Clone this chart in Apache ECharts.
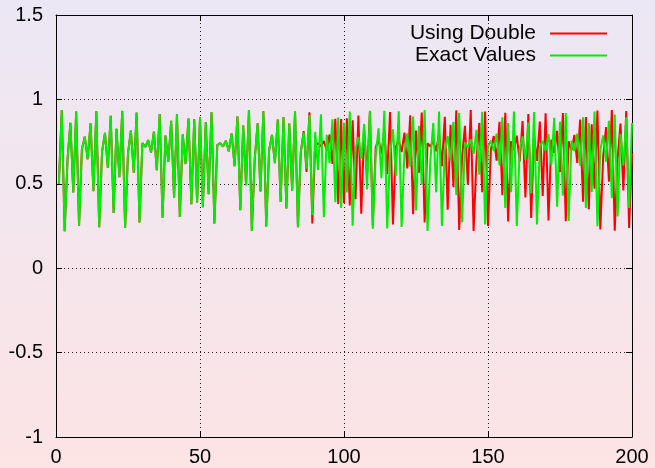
<!DOCTYPE html>
<html><head><meta charset="utf-8">
<script src="https://cdn.jsdelivr.net/npm/echarts/dist/echarts.min.js"></script>
<style>
html,body{margin:0;padding:0;width:655px;height:468px;overflow:hidden;background:linear-gradient(180deg,#ebe7f4 0%,#fde4e5 100%);}
#c{width:655px;height:468px;}
</style>
</head><body><div id="c"></div>
<script>
const seriesNames = ['Using Double', 'Exact Values'];
const xTicks = [0, 50, 100, 150, 200];
const yTicks = [-1, -0.5, 0, 0.5, 1, 1.5];

const exactValues = [
0.5,0.9375,0.2197,0.6429,0.8609,0.4491,0.9278,0.2513,0.7055,0.7791,
0.6454,0.8583,0.4562,0.9303,0.2431,0.6901,0.8020,0.5955,0.9033,0.3275,
0.8260,0.5390,0.9318,0.2384,0.6808,0.8149,0.5655,0.9214,0.2716,0.7419,
0.7180,0.7592,0.6855,0.8084,0.5808,0.9127,0.2988,0.7857,0.6313,0.8728,
0.4164,0.9113,0.3032,0.7923,0.6171,0.8861,0.3785,0.8821,0.3900,0.8921,
0.3610,0.8650,0.4378,0.9230,0.2643,0.7291,0.7407,0.7203,0.7555,0.6927,
0.7982,0.6040,0.8982,0.3430,0.8451,0.4910,0.9372,0.2206,0.6448,0.8589,
0.4544,0.9297,0.2476,0.6986,0.7896,0.6226,0.8811,0.3928,0.8944,0.3541,
0.8577,0.4577,0.9308,0.2421,0.6881,0.8048,0.5890,0.9078,0.3140,0.8077,
0.5825,0.9120,0.3017,0.7900,0.6221,0.8816,0.3914,0.8933,0.3573,0.8611,
0.4486,0.9276,0.2518,0.7065,0.7776,0.6486,0.8547,0.4658,0.9331,0.2333,
0.6707,0.8282,0.5335,0.9328,0.2352,0.6745,0.8233,0.5456,0.9297,0.2442,
0.6921,0.7991,0.6020,0.8985,0.3420,0.8437,0.4945,0.9374,0.2199,0.6433,
0.8605,0.4502,0.9282,0.2500,0.7031,0.7828,0.6376,0.8665,0.4338,0.9211,
0.2725,0.7434,0.7153,0.7636,0.6770,0.8200,0.5534,0.9268,0.2596,0.7207,
0.7548,0.6940,0.7963,0.6084,0.8934,0.3572,0.8605,0.4497,0.9280,0.2505,
0.7040,0.7814,0.6406,0.8634,0.4423,0.9250,0.2595,0.7206,0.7543,0.6949,
0.7950,0.6112,0.8911,0.3638,0.8679,0.4298,0.9190,0.2793,0.7549,0.6938,
0.7966,0.6080,0.8936,0.3564,0.8602,0.4510,0.9285,0.2489,0.7010,0.7860,
0.6308,0.8733,0.4150,0.9104,0.3060,0.7964,0.6081,0.8937,0.3562,0.8600
];

const doubleValues = [
0.5,0.9375,0.2197,0.6429,0.8609,0.4491,0.9278,0.2513,0.7055,0.7791,
0.6454,0.8583,0.4562,0.9303,0.2431,0.6901,0.8020,0.5955,0.9033,0.3275,
0.8260,0.5390,0.9318,0.2384,0.6808,0.8149,0.5655,0.9214,0.2716,0.7419,
0.7180,0.7592,0.6855,0.8084,0.5808,0.9127,0.2988,0.7857,0.6313,0.8728,
0.4164,0.9113,0.3032,0.7923,0.6171,0.8861,0.3785,0.8821,0.3900,0.8921,
0.3610,0.8650,0.4378,0.9230,0.2643,0.7291,0.7407,0.7203,0.7555,0.6927,
0.7982,0.6040,0.8982,0.3430,0.8451,0.4910,0.9372,0.2206,0.6448,0.8589,
0.4544,0.9297,0.2476,0.6986,0.7896,0.6226,0.8811,0.3928,0.8944,0.3541,
0.8577,0.4577,0.9308,0.2421,0.6881,0.8120,0.5700,0.9240,0.2645,0.7295,
0.7399,0.7217,0.7532,0.6970,0.7920,0.6178,0.8855,0.3802,0.8837,0.3857,
0.8885,0.3716,0.8757,0.4081,0.9050,0.3224,0.8192,0.5554,0.9260,0.2568,
0.7157,0.7630,0.6780,0.8187,0.5566,0.9255,0.2585,0.7189,0.7578,0.6882,
0.8037,0.5917,0.9060,0.3193,0.8151,0.5651,0.9216,0.2709,0.7407,0.7203,
0.7555,0.6927,0.7982,0.6041,0.8969,0.3469,0.8496,0.4793,0.9359,0.2270,
0.6581,0.8437,0.4945,0.9374,0.2199,0.6433,0.8605,0.4502,0.9282,0.2499,
0.7029,0.7831,0.6370,0.8671,0.4322,0.9203,0.2771,0.7512,0.7010,0.7853,
0.6324,0.8717,0.4193,0.9131,0.2976,0.7839,0.6353,0.8688,0.4275,0.9178,
0.2830,0.7610,0.6820,0.8133,0.5695,0.9194,0.2778,0.7524,0.6987,0.7894,
0.6234,0.8804,0.3945,0.8958,0.3495,0.8526,0.4712,0.9344,0.2300,0.6640,
0.8365,0.5127,0.9369,0.2215,0.6466,0.8565,0.4603,0.9318,0.2384,0.6809
];

function pairs(arr){ return arr.map((v,i)=>[i+1, v]); }

const font = 'Liberation Sans, Arial, sans-serif';
const chart = echarts.init(document.getElementById('c'), null, {renderer:'canvas'});

const gridLine = {show:true, lineStyle:{color:'#222', type:[1,3], width:1}};
const axisLineStyle = {show:true, onZero:false, lineStyle:{color:'#000', width:1}};
const tick = {show:true, inside:true, length:6, lineStyle:{color:'#000', width:1}};

chart.setOption({
  animation:false,
  backgroundColor:'transparent',
  grid:{left:56, right:23, top:15, bottom:31, containLabel:false},
  legend:[
    {data:[seriesNames[0]], right:43, top:18, orient:'horizontal', align:'right', icon:'rect',
     itemWidth:57, itemHeight:2, textStyle:{fontSize:21, fontFamily:font, color:'#000', padding:[0,9,0,0]}},
    {data:[seriesNames[1]], right:43, top:40, orient:'horizontal', align:'right', icon:'rect',
     itemWidth:57, itemHeight:2, textStyle:{fontSize:21, fontFamily:font, color:'#000', padding:[0,9,0,0]}}
  ],
  xAxis:[
    {type:'value', min:xTicks[0], max:xTicks[xTicks.length-1], interval:50, position:'bottom',
     axisLine:axisLineStyle, axisTick:tick, splitLine:gridLine,
     axisLabel:{color:'#000', fontSize:20, fontFamily:font, margin:10}},
    {type:'value', min:xTicks[0], max:xTicks[xTicks.length-1], interval:50, position:'top',
     axisLine:axisLineStyle, axisTick:tick, splitLine:{show:false}, axisLabel:{show:false}}
  ],
  yAxis:[
    {type:'value', min:yTicks[0], max:yTicks[yTicks.length-1], interval:0.5, position:'left',
     axisLine:axisLineStyle, axisTick:tick, splitLine:gridLine,
     axisLabel:{color:'#000', fontSize:20, fontFamily:font, margin:13}},
    {type:'value', min:yTicks[0], max:yTicks[yTicks.length-1], interval:0.5, position:'right',
     axisLine:axisLineStyle, axisTick:tick, splitLine:{show:false}, axisLabel:{show:false}}
  ],
  series:[
    {name:seriesNames[0], type:'line', data:pairs(doubleValues), showSymbol:false, symbol:'none',
     lineStyle:{color:'#ff0000', width:2}, itemStyle:{color:'#ff0000'}, z:2},
    {name:seriesNames[1], type:'line', data:pairs(exactValues), showSymbol:false, symbol:'none',
     lineStyle:{color:'#00ee00', width:2}, itemStyle:{color:'#00ee00'}, z:3}
  ]
});
</script>
</body></html>
